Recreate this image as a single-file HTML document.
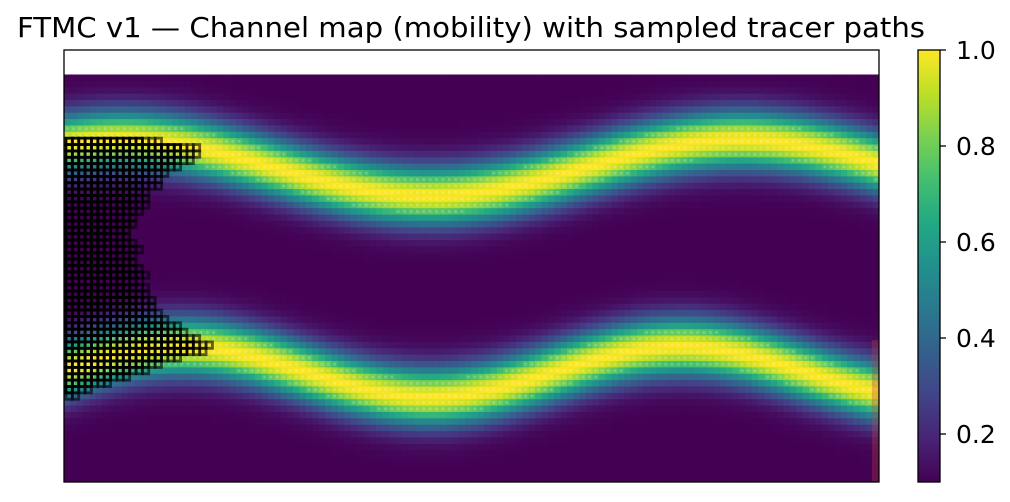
<!DOCTYPE html>
<html><head><meta charset="utf-8"><style>
body{margin:0;background:#fff;font-family:"DejaVu Sans",sans-serif}
</style></head><body>
<svg id="s" width="1010" height="498" xmlns="http://www.w3.org/2000/svg">
<text x="471" y="37" font-size="28" text-anchor="middle" textLength="908" lengthAdjust="spacingAndGlyphs" font-family="DejaVu Sans, sans-serif">FTMC v1 — Channel map (mobility) with sampled tracer paths</text>
<g id="heat"></g>
<g id="dots"></g>
<g id="paths"></g>
<rect x="872" y="340" width="7" height="142" fill="#c04040" opacity="0.3"/>
<rect x="64" y="50" width="815" height="432" fill="none" stroke="#000" stroke-width="1.3"/>
<defs><linearGradient id="cg" x1="0" y1="1" x2="0" y2="0"></linearGradient></defs>
<rect x="918" y="50" width="22" height="432" fill="url(#cg)" stroke="#000" stroke-width="1.3"/>
<g id="cbt"></g>
</svg>
<script>
const cbTicks=[0.2,0.4,0.6,0.8,1.0];
const vmin=0.1, vmax=1.0;
const nCols=128, nRows=64;
const channelMean=[168,372];
const channelAmp=[28,25];
const channelPeriod=[620,500];
const channelPeakX=[430,430];
const channelSigma=[20,20];
// tracer coverage: [row, rightmost column]
const tracerRows=[[10,14],[11,20],[12,20],[13,19],[14,17],[15,15],[16,14],[17,14],[18,12],[19,12],[20,12],[21,11],[22,10],[23,10],[24,9],[25,9],[26,10],[27,11],[28,10],[29,10],[30,11],[31,12],[32,11],[33,12],[34,12],[35,13],[36,13],[37,14],[38,15],[39,17],[40,18],[41,20],[42,22],[43,21],[44,17],[45,14],[46,12],[47,9],[48,6],[49,3],[50,1]];
const V=[[0,"#440154"],[0.1,"#482475"],[0.2,"#414487"],[0.3,"#355f8d"],[0.4,"#2a788e"],[0.5,"#21918c"],[0.6,"#22a884"],[0.7,"#44bf70"],[0.8,"#7ad151"],[0.9,"#bddf26"],[1,"#fde725"]];
function hx(h){return [1,3,5].map(i=>parseInt(h.substr(i,2),16));}
function vir(t){t=Math.max(0,Math.min(1,t));for(let i=1;i<V.length;i++){if(t<=V[i][0]){const a=hx(V[i-1][1]),b=hx(V[i][1]),f=(t-V[i-1][0])/(V[i][0]-V[i-1][0]);return "rgb("+a.map((v,k)=>Math.round(v+(b[k]-v)*f)).join(",")+")";}}}
const NS="http://www.w3.org/2000/svg";
const X0=64,W=815,Y1=482,cw=W/nCols,Y0=Y1-nRows*cw;
const heat=document.getElementById('heat'),dots=document.getElementById('dots'),paths=document.getElementById('paths');
function val(px,py){let m=0;for(let k=0;k<channelMean.length;k++){const c=channelMean[k]+channelAmp[k]*Math.cos(2*Math.PI*(px-channelPeakX[k])/channelPeriod[k]);const d=py-c;m=Math.max(m,Math.exp(-0.5*(d/channelSigma[k])**2));}return vmin+(vmax-vmin)*m;}
for(let r=0;r<nRows;r++)for(let c=0;c<nCols;c++){
 const x=X0+c*cw,y=Y0+r*cw,v=val(x+cw/2,y+cw/2);
 const e=document.createElementNS(NS,'rect');
 e.setAttribute('x',x.toFixed(2));e.setAttribute('y',y.toFixed(2));e.setAttribute('width',(cw+0.4).toFixed(2));e.setAttribute('height',(cw+0.4).toFixed(2));
 e.setAttribute('fill',vir((v-vmin)/(vmax-vmin)));
 
 
 heat.appendChild(e);
 if(v>0.72){const d=document.createElementNS(NS,'rect');
 d.setAttribute('x',(x+1.8).toFixed(2));d.setAttribute('y',(y+1.8).toFixed(2));d.setAttribute('width','2.8');d.setAttribute('height','2.8');d.setAttribute('fill','#fff');d.setAttribute('opacity','0.2');
 
 
 dots.appendChild(d);}
}
for(const [r,cmax] of tracerRows){for(let c=0;c<=cmax;c++){
 const e=document.createElementNS(NS,'rect');
 e.setAttribute('x',(X0+2+c*cw).toFixed(2));e.setAttribute('y',(Y0+r*cw).toFixed(2));e.setAttribute('width',cw.toFixed(2));e.setAttribute('height',cw.toFixed(2));
 e.setAttribute('fill','none');e.setAttribute('stroke','#000');e.setAttribute('stroke-width','2.8');
 e.setAttribute('opacity',c>cmax-3?'0.6':'0.95');
 
 
 paths.appendChild(e);}}
const g=document.getElementById('cg');
for(let i=0;i<=10;i++){const s=document.createElementNS(NS,'stop');s.setAttribute('offset',i/10);s.setAttribute('stop-color',vir(i/10));g.appendChild(s);}
const cbt=document.getElementById('cbt');
function cy(v){return 482-(v-vmin)/(vmax-vmin)*432;}
for(const t of cbTicks){const y=cy(t);
 const l=document.createElementNS(NS,'line');l.setAttribute('x1',940);l.setAttribute('x2',946);l.setAttribute('y1',y);l.setAttribute('y2',y);l.setAttribute('stroke','#000');l.setAttribute('stroke-width','1.3');
 
 
 cbt.appendChild(l);
 const tx=document.createElementNS(NS,'text');tx.setAttribute('x',956);tx.setAttribute('y',y+9);tx.setAttribute('font-size','25');tx.setAttribute('font-family','DejaVu Sans, sans-serif');tx.textContent=t.toFixed(1);
 
 
 cbt.appendChild(tx);}
</script>
</body></html>
